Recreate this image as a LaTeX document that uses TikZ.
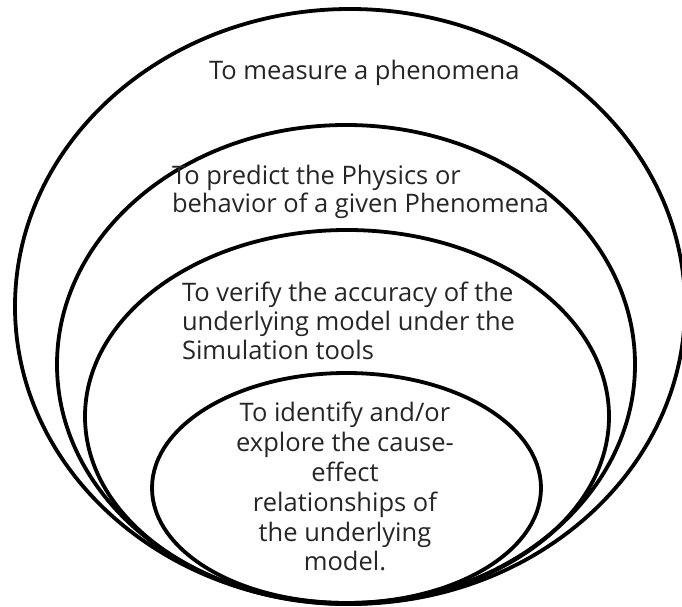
\documentclass[tikz,border=0pt]{standalone}
\usepackage{fontspec}
\setmainfont{Open Sans}
\begin{document}
\begin{tikzpicture}[x=1pt,y=1pt,
  ring/.style={draw=black,line width=3.8pt},
  label/.style={inner sep=0pt,outer sep=0pt,text=black!85,
    font=\fontsize{25.5}{29.5}\selectfont}]
\useasboundingbox (0,0) rectangle (682,607);
\clip (0,0) rectangle (682,607);
\fill[white] (0,0) rectangle (682,607);
% rings (image y -> 607 - y)
\draw[ring] (350,300.5) ellipse [x radius=335, y radius=297.5];
\draw[ring] (346,242.5) ellipse [x radius=289, y radius=239.5];
\draw[ring] (347,190.5) ellipse [x radius=262, y radius=186.5];
\draw[ring] (346.5,119) ellipse [x radius=194.5, y radius=115];
% texts (base anchor = baseline of the last line)
\node[label,anchor=base west] (t1) at (209,527) {To measure a phenomena};
\node[label,anchor=base west,align=left,
  font=\fontsize{25.5}{28}\selectfont] (t2) at (172,394)
  {To predict the Physics or\\behavior of a given Phenomena};
\node[label,anchor=base west,align=left,
  font=\fontsize{25.5}{29}\selectfont] (t3) at (182,247)
  {To verify the accuracy of the\\underlying model under the\\Simulation tools};
\node[label,anchor=base,align=center,
  font=\fontsize{25.5}{29.8}\selectfont] (t4) at (345,36)
  {To identify and/or\\explore the cause-\\effect\\relationships of\\the underlying\\model.};
\end{tikzpicture}
\end{document}
